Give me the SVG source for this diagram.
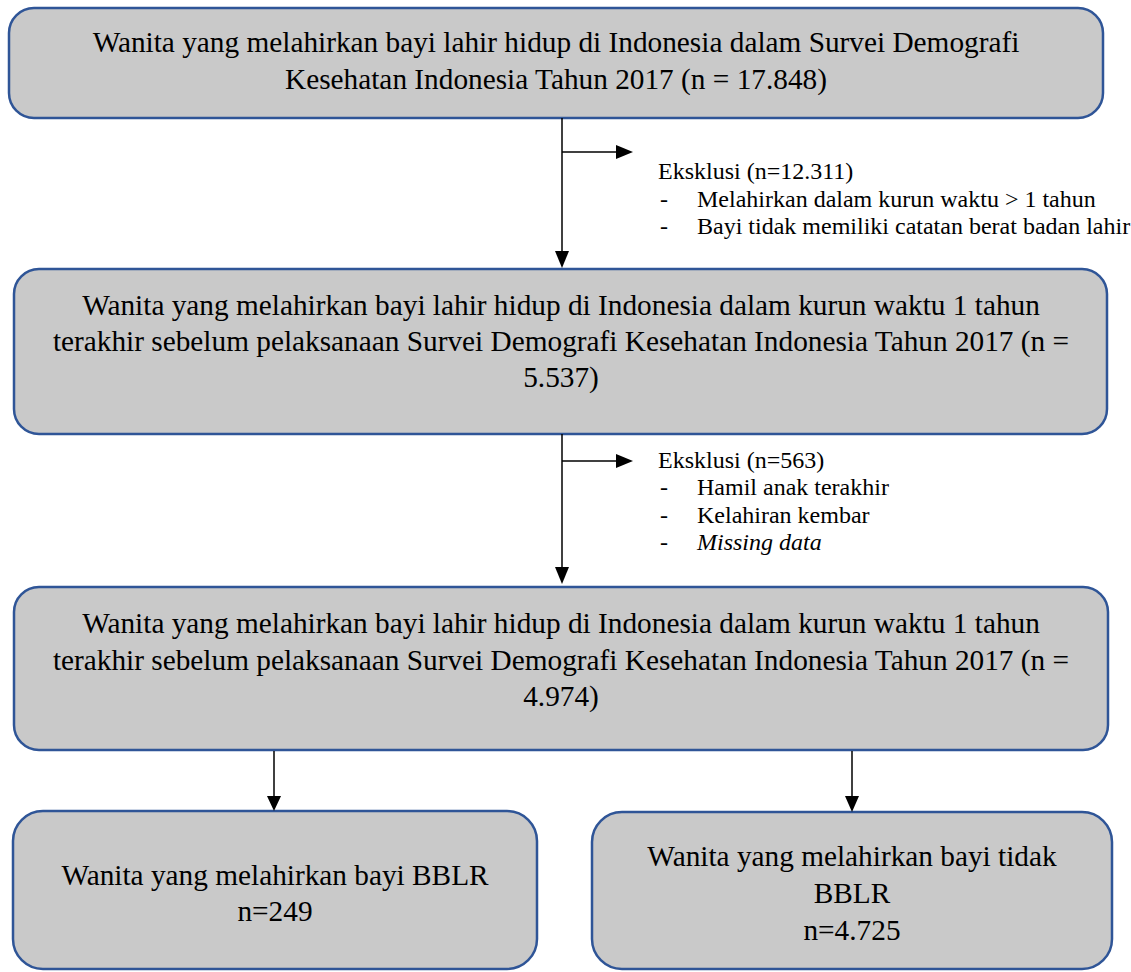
<svg xmlns="http://www.w3.org/2000/svg" width="1131" height="972" viewBox="0 0 1131 972">
<style>
.box{fill:#c9c9c9;stroke:#2f5597;stroke-width:2.5}
.bt{font-family:"Liberation Serif","Times New Roman",serif;font-size:29.3px;fill:#000;text-anchor:middle}
.et{font-family:"Liberation Serif","Times New Roman",serif;font-size:24px;fill:#000}
.ln{stroke:#000;stroke-width:1.5;fill:none}
.ah{fill:#000}
</style>
<rect x="0" y="0" width="1131" height="972" fill="#fff"/>
<g id="node1">
<rect class="box" x="9" y="8" width="1094" height="110" rx="25"/>
<text class="bt"><tspan x="556" y="52">Wanita yang melahirkan bayi lahir hidup di Indonesia dalam Survei Demografi</tspan><tspan x="556" y="89">Kesehatan Indonesia Tahun 2017 (n = 17.848)</tspan></text>
</g>
<g id="excl1">
<text class="et" x="658" y="179">Eksklusi (n=12.311)</text>
<text class="et" x="660" y="207">-</text><text class="et" x="697" y="207">Melahirkan dalam kurun waktu &gt; 1 tahun</text>
<text class="et" x="660" y="234">-</text><text class="et" x="697" y="234">Bayi tidak memiliki catatan berat badan lahir</text>
</g>
<g id="node2">
<rect class="box" x="14" y="269" width="1093" height="165" rx="25"/>
<text class="bt"><tspan x="561" y="315">Wanita yang melahirkan bayi lahir hidup di Indonesia dalam kurun waktu 1 tahun</tspan><tspan x="561" y="351">terakhir sebelum pelaksanaan Survei Demografi Kesehatan Indonesia Tahun 2017 (n =</tspan><tspan x="561" y="387">5.537)</tspan></text>
</g>
<g id="excl2">
<text class="et" x="658" y="468">Eksklusi (n=563)</text>
<text class="et" x="660" y="495">-</text><text class="et" x="697" y="495">Hamil anak terakhir</text>
<text class="et" x="660" y="523">-</text><text class="et" x="697" y="523">Kelahiran kembar</text>
<text class="et" x="660" y="550">-</text><text class="et" x="697" y="550" font-style="italic">Missing data</text>
</g>
<g id="node3">
<rect class="box" x="14" y="587" width="1094" height="163" rx="25"/>
<text class="bt"><tspan x="561" y="633">Wanita yang melahirkan bayi lahir hidup di Indonesia dalam kurun waktu 1 tahun</tspan><tspan x="561" y="670">terakhir sebelum pelaksanaan Survei Demografi Kesehatan Indonesia Tahun 2017 (n =</tspan><tspan x="561" y="706">4.974)</tspan></text>
</g>
<g id="node4">
<rect class="box" x="13" y="811" width="524" height="158" rx="30"/>
<text class="bt"><tspan x="275" y="885">Wanita yang melahirkan bayi BBLR</tspan><tspan x="275" y="921">n=249</tspan></text>
</g>
<g id="node5">
<rect class="box" x="592" y="812" width="520" height="157" rx="30"/>
<text class="bt"><tspan x="852" y="866">Wanita yang melahirkan bayi tidak</tspan><tspan x="852" y="903">BBLR</tspan><tspan x="852" y="940">n=4.725</tspan></text>
</g>
<g id="connectors">
<line class="ln" x1="562" y1="118" x2="562" y2="252"/>
<polygon class="ah" points="555,251 569,251 562,268"/>
<line class="ln" x1="562" y1="152" x2="617" y2="152"/>
<polygon class="ah" points="616,145 616,159 633,152"/>
<line class="ln" x1="562" y1="434" x2="562" y2="568"/>
<polygon class="ah" points="555,567 569,567 562,584"/>
<line class="ln" x1="562" y1="461" x2="617" y2="461"/>
<polygon class="ah" points="616,454 616,468 633,461"/>
<line class="ln" x1="274" y1="751" x2="274" y2="797"/>
<polygon class="ah" points="267,796 281,796 274,811"/>
<line class="ln" x1="852" y1="751" x2="852" y2="797"/>
<polygon class="ah" points="845,796 859,796 852,812"/>
</g>
</svg>
